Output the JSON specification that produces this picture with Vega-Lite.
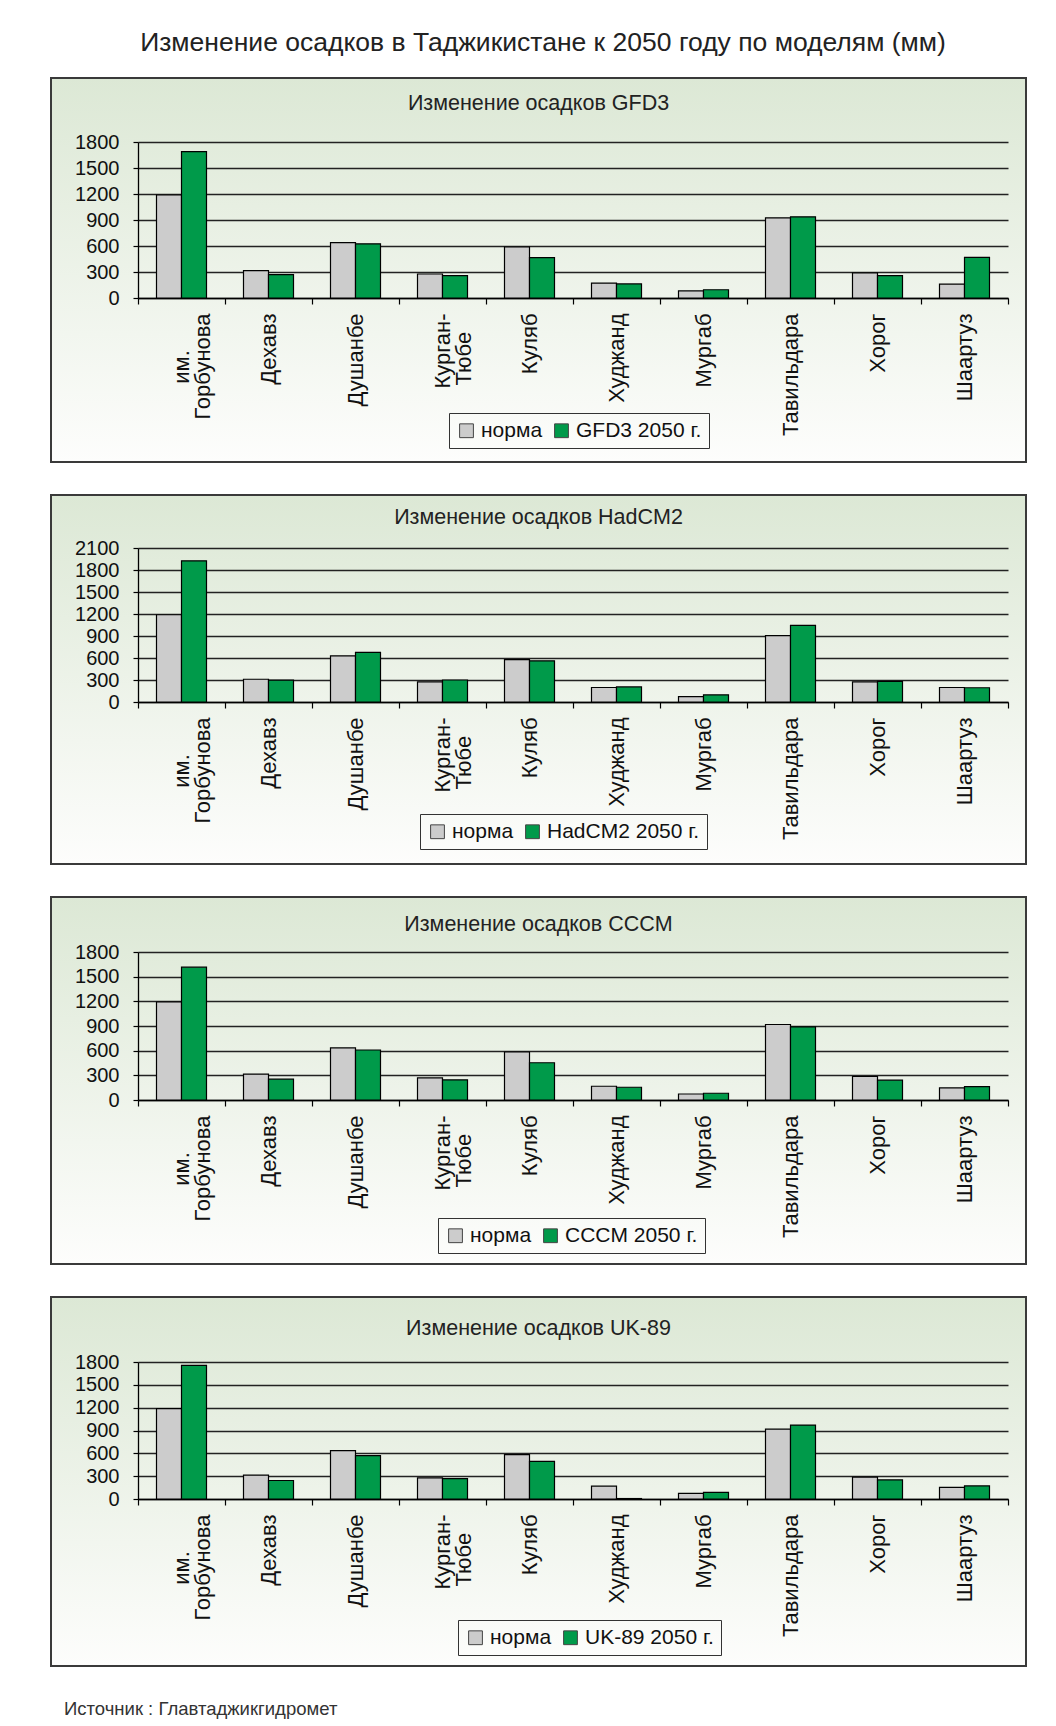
{
  "$schema": "https://vega.github.io/schema/vega-lite/v6.json",
  "padding": {"left": 39, "top": 29, "right": 10, "bottom": 4},
  "background": "white",
  "title": {"text": "Изменение осадков в Таджикистане к 2050 году по моделям (мм)", "fontSize": 26.5, "baseline": "middle", "offset": 8, "anchor": "middle", "dx": 10, "color": "#222"},
  "config": {
    "font": "Liberation Sans",
    "view": {"stroke": "#3a3a3a", "strokeWidth": 2, "fill": {"gradient": "linear", "x1": 0, "y1": 0, "x2": 0, "y2": 1, "stops": [{"offset": 0, "color": "#dce8d5"}, {"offset": 1, "color": "#fdfdfc"}]}},
    "title": {"font": "Liberation Sans", "fontWeight": "normal", "color": "#222", "fontSize": 21.5},
    "axis": {"labelFont": "Liberation Sans", "labelFontSize": 20, "labelColor": "#111", "domainColor": "#000", "domainWidth": 1.3, "tickColor": "#000", "tickWidth": 1.2, "minExtent": 0, "titlePadding": 0},
    "axisY": {"grid": true, "gridColor": "#222", "gridWidth": 1.5, "tickSize": 5, "labelPadding": 14, "format": "d"},
    "axisX": {"grid": false, "tickSize": 6, "labelPadding": 9, "labelAngle": -90, "tickBand": "extent", "labelLineHeight": 21, "labelFontSize": 22},
    "legend": {"labelFont": "Liberation Sans", "labelFontSize": 21, "labelColor": "#111", "orient": "none", "direction": "horizontal", "strokeColor": "#333", "padding": 7, "symbolType": "square", "symbolSize": 190, "symbolStrokeColor": "#444", "symbolStrokeWidth": 1, "columnPadding": 8, "labelOffset": 4, "title": null}
  },
  "datasets": {
    "d": [
      {"m": "GFD3", "s": "им.|Горбунова", "k": "норма", "v": 1190},
      {"m": "GFD3", "s": "им.|Горбунова", "k": "GFD3 2050 г.", "v": 1690},
      {"m": "GFD3", "s": "Дехавз", "k": "норма", "v": 315},
      {"m": "GFD3", "s": "Дехавз", "k": "GFD3 2050 г.", "v": 270},
      {"m": "GFD3", "s": "Душанбе", "k": "норма", "v": 640},
      {"m": "GFD3", "s": "Душанбе", "k": "GFD3 2050 г.", "v": 625},
      {"m": "GFD3", "s": "Курган-|Тюбе", "k": "норма", "v": 277},
      {"m": "GFD3", "s": "Курган-|Тюбе", "k": "GFD3 2050 г.", "v": 258},
      {"m": "GFD3", "s": "Куляб", "k": "норма", "v": 590},
      {"m": "GFD3", "s": "Куляб", "k": "GFD3 2050 г.", "v": 465},
      {"m": "GFD3", "s": "Худжанд", "k": "норма", "v": 172},
      {"m": "GFD3", "s": "Худжанд", "k": "GFD3 2050 г.", "v": 162},
      {"m": "GFD3", "s": "Мургаб", "k": "норма", "v": 82},
      {"m": "GFD3", "s": "Мургаб", "k": "GFD3 2050 г.", "v": 95},
      {"m": "GFD3", "s": "Тавильдара", "k": "норма", "v": 925},
      {"m": "GFD3", "s": "Тавильдара", "k": "GFD3 2050 г.", "v": 937},
      {"m": "GFD3", "s": "Хорог", "k": "норма", "v": 290},
      {"m": "GFD3", "s": "Хорог", "k": "GFD3 2050 г.", "v": 258},
      {"m": "GFD3", "s": "Шаартуз", "k": "норма", "v": 160},
      {"m": "GFD3", "s": "Шаартуз", "k": "GFD3 2050 г.", "v": 468},
      {"m": "HadCM2", "s": "им.|Горбунова", "k": "норма", "v": 1190},
      {"m": "HadCM2", "s": "им.|Горбунова", "k": "HadCM2 2050 г.", "v": 1925},
      {"m": "HadCM2", "s": "Дехавз", "k": "норма", "v": 310},
      {"m": "HadCM2", "s": "Дехавз", "k": "HadCM2 2050 г.", "v": 298},
      {"m": "HadCM2", "s": "Душанбе", "k": "норма", "v": 630},
      {"m": "HadCM2", "s": "Душанбе", "k": "HadCM2 2050 г.", "v": 678},
      {"m": "HadCM2", "s": "Курган-|Тюбе", "k": "норма", "v": 275},
      {"m": "HadCM2", "s": "Курган-|Тюбе", "k": "HadCM2 2050 г.", "v": 300},
      {"m": "HadCM2", "s": "Куляб", "k": "норма", "v": 578},
      {"m": "HadCM2", "s": "Куляб", "k": "HadCM2 2050 г.", "v": 562},
      {"m": "HadCM2", "s": "Худжанд", "k": "норма", "v": 198},
      {"m": "HadCM2", "s": "Худжанд", "k": "HadCM2 2050 г.", "v": 205},
      {"m": "HadCM2", "s": "Мургаб", "k": "норма", "v": 72},
      {"m": "HadCM2", "s": "Мургаб", "k": "HadCM2 2050 г.", "v": 98},
      {"m": "HadCM2", "s": "Тавильдара", "k": "норма", "v": 905},
      {"m": "HadCM2", "s": "Тавильдара", "k": "HadCM2 2050 г.", "v": 1045},
      {"m": "HadCM2", "s": "Хорог", "k": "норма", "v": 275},
      {"m": "HadCM2", "s": "Хорог", "k": "HadCM2 2050 г.", "v": 280},
      {"m": "HadCM2", "s": "Шаартуз", "k": "норма", "v": 198},
      {"m": "HadCM2", "s": "Шаартуз", "k": "HadCM2 2050 г.", "v": 194},
      {"m": "CCCM", "s": "им.|Горбунова", "k": "норма", "v": 1192},
      {"m": "CCCM", "s": "им.|Горбунова", "k": "CCCM 2050 г.", "v": 1616},
      {"m": "CCCM", "s": "Дехавз", "k": "норма", "v": 314},
      {"m": "CCCM", "s": "Дехавз", "k": "CCCM 2050 г.", "v": 253},
      {"m": "CCCM", "s": "Душанбе", "k": "норма", "v": 633},
      {"m": "CCCM", "s": "Душанбе", "k": "CCCM 2050 г.", "v": 608},
      {"m": "CCCM", "s": "Курган-|Тюбе", "k": "норма", "v": 269},
      {"m": "CCCM", "s": "Курган-|Тюбе", "k": "CCCM 2050 г.", "v": 245},
      {"m": "CCCM", "s": "Куляб", "k": "норма", "v": 584},
      {"m": "CCCM", "s": "Куляб", "k": "CCCM 2050 г.", "v": 453},
      {"m": "CCCM", "s": "Худжанд", "k": "норма", "v": 167},
      {"m": "CCCM", "s": "Худжанд", "k": "CCCM 2050 г.", "v": 155},
      {"m": "CCCM", "s": "Мургаб", "k": "норма", "v": 73},
      {"m": "CCCM", "s": "Мургаб", "k": "CCCM 2050 г.", "v": 82},
      {"m": "CCCM", "s": "Тавильдара", "k": "норма", "v": 918},
      {"m": "CCCM", "s": "Тавильдара", "k": "CCCM 2050 г.", "v": 890},
      {"m": "CCCM", "s": "Хорог", "k": "норма", "v": 286},
      {"m": "CCCM", "s": "Хорог", "k": "CCCM 2050 г.", "v": 241},
      {"m": "CCCM", "s": "Шаартуз", "k": "норма", "v": 147},
      {"m": "CCCM", "s": "Шаартуз", "k": "CCCM 2050 г.", "v": 163},
      {"m": "UK-89", "s": "им.|Горбунова", "k": "норма", "v": 1187},
      {"m": "UK-89", "s": "им.|Горбунова", "k": "UK-89 2050 г.", "v": 1756},
      {"m": "UK-89", "s": "Дехавз", "k": "норма", "v": 313},
      {"m": "UK-89", "s": "Дехавз", "k": "UK-89 2050 г.", "v": 243},
      {"m": "UK-89", "s": "Душанбе", "k": "норма", "v": 635},
      {"m": "UK-89", "s": "Душанбе", "k": "UK-89 2050 г.", "v": 569},
      {"m": "UK-89", "s": "Курган-|Тюбе", "k": "норма", "v": 278},
      {"m": "UK-89", "s": "Курган-|Тюбе", "k": "UK-89 2050 г.", "v": 269},
      {"m": "UK-89", "s": "Куляб", "k": "норма", "v": 582},
      {"m": "UK-89", "s": "Куляб", "k": "UK-89 2050 г.", "v": 494},
      {"m": "UK-89", "s": "Худжанд", "k": "норма", "v": 168},
      {"m": "UK-89", "s": "Худжанд", "k": "UK-89 2050 г.", "v": 6},
      {"m": "UK-89", "s": "Мургаб", "k": "норма", "v": 75},
      {"m": "UK-89", "s": "Мургаб", "k": "UK-89 2050 г.", "v": 88},
      {"m": "UK-89", "s": "Тавильдара", "k": "норма", "v": 918},
      {"m": "UK-89", "s": "Тавильдара", "k": "UK-89 2050 г.", "v": 971},
      {"m": "UK-89", "s": "Хорог", "k": "норма", "v": 287},
      {"m": "UK-89", "s": "Хорог", "k": "UK-89 2050 г.", "v": 251},
      {"m": "UK-89", "s": "Шаартуз", "k": "норма", "v": 154},
      {"m": "UK-89", "s": "Шаартуз", "k": "UK-89 2050 г.", "v": 172}
    ]
  },
  "resolve": {"scale": {"color": "independent", "xOffset": "independent"}, "legend": {"color": "independent"}},
  "vconcat": [
    {
      "spacing": 33,
      "bounds": "flush",
      "title": {"text": "Источник : Главтаджикгидромет", "orient": "bottom", "anchor": "start", "fontSize": 18.5, "color": "#333", "baseline": "middle", "offset": 42, "dx": 25},
      "resolve": {"scale": {"color": "independent", "xOffset": "independent"}, "legend": {"color": "independent"}},
      "vconcat": [
        {
          "width": 975, "height": 384,
          "title": {"text": "Изменение осадков GFD3", "offset": -47, "baseline": "middle", "anchor": "middle", "frame": "group"},
          "data": {"name": "d"},
          "transform": [{"filter": "datum.m == 'GFD3'"}],
          "mark": {"type": "bar", "stroke": "#000", "strokeWidth": 1.2},
          "encoding": {
            "x": {"field": "s", "type": "nominal", "sort": null, "scale": {"range": [87, 957], "paddingInner": 0, "paddingOuter": 0},
                  "axis": {"title": null, "offset": -164, "labelExpr": "datum.label == 'им.|Горбунова' ? ['им.\u00a0\u00a0\u00a0\u00a0\u00a0\u00a0\u200b', 'Горбунова'] : datum.label == 'Курган-|Тюбе' ? ['Курган-', 'Тюбе\u00a0\u00a0\u00a0\u200b'] : datum.label"}},
            "xOffset": {"field": "k", "type": "nominal", "scale": {"domain": ["норма", "GFD3 2050 г."], "paddingInner": 0, "paddingOuter": 0.74}},
            "y": {"field": "v", "type": "quantitative", "scale": {"domain": [0, 1800], "range": [220, 64], "nice": false},
                  "axis": {"title": null, "offset": -87, "values": [0, 300, 600, 900, 1200, 1500, 1800]}},
            "color": {"field": "k", "type": "nominal", "scale": {"domain": ["норма", "GFD3 2050 г."], "range": ["#cccccc", "#009a4a"]},
                      "legend": {"legendX": 398, "legendY": 335}}
          }
        },
        {
          "width": 975, "height": 369,
          "title": {"text": "Изменение осадков HadCM2", "offset": -44, "baseline": "middle", "anchor": "middle", "frame": "group"},
          "data": {"name": "d"},
          "transform": [{"filter": "datum.m == 'HadCM2'"}],
          "mark": {"type": "bar", "stroke": "#000", "strokeWidth": 1.2},
          "encoding": {
            "x": {"field": "s", "type": "nominal", "sort": null, "scale": {"range": [87, 957], "paddingInner": 0, "paddingOuter": 0},
                  "axis": {"title": null, "offset": -162, "labelExpr": "datum.label == 'им.|Горбунова' ? ['им.\u00a0\u00a0\u00a0\u00a0\u00a0\u00a0\u200b', 'Горбунова'] : datum.label == 'Курган-|Тюбе' ? ['Курган-', 'Тюбе\u00a0\u00a0\u00a0\u200b'] : datum.label"}},
            "xOffset": {"field": "k", "type": "nominal", "scale": {"domain": ["норма", "HadCM2 2050 г."], "paddingInner": 0, "paddingOuter": 0.74}},
            "y": {"field": "v", "type": "quantitative", "scale": {"domain": [0, 2100], "range": [207, 53], "nice": false},
                  "axis": {"title": null, "offset": -87, "values": [0, 300, 600, 900, 1200, 1500, 1800, 2100]}},
            "color": {"field": "k", "type": "nominal", "scale": {"domain": ["норма", "HadCM2 2050 г."], "range": ["#cccccc", "#009a4a"]},
                      "legend": {"legendX": 369, "legendY": 319}}
          }
        },
        {
          "width": 975, "height": 367,
          "title": {"text": "Изменение осадков CCCM", "offset": -49, "baseline": "middle", "anchor": "middle", "frame": "group"},
          "data": {"name": "d"},
          "transform": [{"filter": "datum.m == 'CCCM'"}],
          "mark": {"type": "bar", "stroke": "#000", "strokeWidth": 1.2},
          "encoding": {
            "x": {"field": "s", "type": "nominal", "sort": null, "scale": {"range": [87, 957], "paddingInner": 0, "paddingOuter": 0},
                  "axis": {"title": null, "offset": -164, "labelExpr": "datum.label == 'им.|Горбунова' ? ['им.\u00a0\u00a0\u00a0\u00a0\u00a0\u00a0\u200b', 'Горбунова'] : datum.label == 'Курган-|Тюбе' ? ['Курган-', 'Тюбе\u00a0\u00a0\u00a0\u200b'] : datum.label"}},
            "xOffset": {"field": "k", "type": "nominal", "scale": {"domain": ["норма", "CCCM 2050 г."], "paddingInner": 0, "paddingOuter": 0.74}},
            "y": {"field": "v", "type": "quantitative", "scale": {"domain": [0, 1800], "range": [203, 55], "nice": false},
                  "axis": {"title": null, "offset": -87, "values": [0, 300, 600, 900, 1200, 1500, 1800]}},
            "color": {"field": "k", "type": "nominal", "scale": {"domain": ["норма", "CCCM 2050 г."], "range": ["#cccccc", "#009a4a"]},
                      "legend": {"legendX": 387, "legendY": 321}}
          }
        },
        {
          "width": 975, "height": 369,
          "title": {"text": "Изменение осадков UK-89", "offset": -53, "baseline": "middle", "anchor": "middle", "frame": "group"},
          "data": {"name": "d"},
          "transform": [{"filter": "datum.m == 'UK-89'"}],
          "mark": {"type": "bar", "stroke": "#000", "strokeWidth": 1.2},
          "encoding": {
            "x": {"field": "s", "type": "nominal", "sort": null, "scale": {"range": [87, 957], "paddingInner": 0, "paddingOuter": 0},
                  "axis": {"title": null, "offset": -167, "labelExpr": "datum.label == 'им.|Горбунова' ? ['им.\u00a0\u00a0\u00a0\u00a0\u00a0\u00a0\u200b', 'Горбунова'] : datum.label == 'Курган-|Тюбе' ? ['Курган-', 'Тюбе\u00a0\u00a0\u00a0\u200b'] : datum.label"}},
            "xOffset": {"field": "k", "type": "nominal", "scale": {"domain": ["норма", "UK-89 2050 г."], "paddingInner": 0, "paddingOuter": 0.74}},
            "y": {"field": "v", "type": "quantitative", "scale": {"domain": [0, 1800], "range": [202, 65], "nice": false},
                  "axis": {"title": null, "offset": -87, "values": [0, 300, 600, 900, 1200, 1500, 1800]}},
            "color": {"field": "k", "type": "nominal", "scale": {"domain": ["норма", "UK-89 2050 г."], "range": ["#cccccc", "#009a4a"]},
                      "legend": {"legendX": 407, "legendY": 323}}
          }
        }
      ]
    }
  ]
}
